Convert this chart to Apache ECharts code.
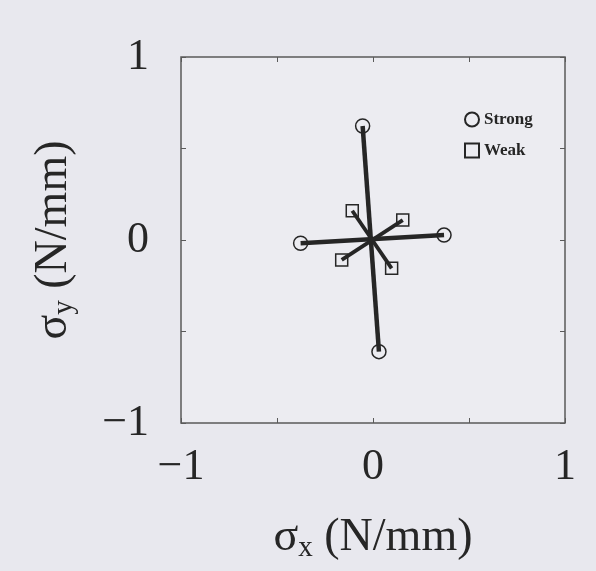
<!DOCTYPE html>
<html>
<head>
<meta charset="utf-8">
<script src="https://cdn.jsdelivr.net/npm/echarts@6/dist/echarts.min.js"></script>
<style>
    html, body { margin: 0; padding: 0; background: #e8e8ee; }
    #chart { width: 596px; height: 571px; }
</style>
</head>
<body>
<div id="chart"></div>
<script>
    // strong specimen: two segments through the origin
    const strongA = [[-0.054, 0.623], [0.031, -0.610]];
    const strongB = [[-0.377, -0.018], [0.370, 0.027]];
    // weak specimen
    const weakA = [[-0.108, 0.160], [0.097, -0.155]];
    const weakB = [[-0.163, -0.109], [0.155, 0.109]];

    const axisTicks = [-1, -0.5, 0, 0.5, 1];
    const labelTicks = [-1, 0, 1];

    const ink = '#262626';
    const serif = '"Liberation Serif", "DejaVu Serif", serif';

    function tickLabel(v) {
        if (labelTicks.indexOf(v) < 0) return '';
        return v < 0 ? '\u2212' + Math.abs(v) : String(v);
    }

    function segment(name, data, symbol, size, width) {
        return {
            name: name,
            type: 'line',
            data: data,
            symbol: symbol,
            symbolSize: size,
            lineStyle: {color: ink, width: width},
            itemStyle: {color: 'rgba(0,0,0,0)', borderColor: ink, borderWidth: 1.5},
            emphasis: {disabled: true},
            z: 3
        };
    }

    const nameRich = {
        s: {fontFamily: serif, fontSize: 46, lineHeight: 50, color: ink},
        sub: {fontFamily: serif, fontSize: 29, lineHeight: 12, color: ink, verticalAlign: 'bottom'}
    };

    let chart = echarts.init(document.getElementById('chart'));
    let option = {
        backgroundColor: '#e8e8ee',
        animation: false,
        grid: {
            left: 181, top: 57, right: 31, bottom: 148,
            show: true,
            backgroundColor: '#ececf1',
            borderColor: '#5a5a5a',
            borderWidth: 1.5
        },
        legend: {
            orient: 'vertical',
            left: 459,
            top: 106,
            itemWidth: 14,
            itemHeight: 14,
            itemGap: 14,
            selectedMode: false,
            textStyle: {fontFamily: serif, fontSize: 17, fontWeight: 'bold', color: ink},
            data: [
                {name: 'Strong', icon: 'circle'},
                {name: 'Weak', icon: 'rect'}
            ]
        },
        xAxis: [
            {
                type: 'value', min: -1, max: 1, interval: 0.5,
                name: '{s|σ}{sub|x}{s| (N/mm)}',
                nameLocation: 'middle',
                nameGap: 90,
                nameTextStyle: {rich: nameRich},
                axisLine: {show: false, onZero: false},
                axisTick: {show: true, inside: true, length: 5, lineStyle: {color: '#5a5a5a'}},
                splitLine: {show: false},
                axisLabel: {formatter: tickLabel, fontFamily: serif, fontSize: 44, color: ink, margin: 22}
            },
            {
                type: 'value', min: -1, max: 1, interval: 0.5, position: 'top',
                axisLine: {show: false, onZero: false},
                axisTick: {show: true, inside: true, length: 5, lineStyle: {color: '#5a5a5a'}},
                splitLine: {show: false},
                axisLabel: {show: false}
            }
        ],
        yAxis: [
            {
                type: 'value', min: -1, max: 1, interval: 0.5,
                name: '{s|σ}{sub|y}{s| (N/mm)}',
                nameLocation: 'middle',
                nameGap: 102,
                nameTextStyle: {rich: nameRich},
                axisLine: {show: false, onZero: false},
                axisTick: {show: true, inside: true, length: 5, lineStyle: {color: '#5a5a5a'}},
                splitLine: {show: false},
                axisLabel: {formatter: tickLabel, fontFamily: serif, fontSize: 44, color: ink, margin: 32}
            },
            {
                type: 'value', min: -1, max: 1, interval: 0.5, position: 'right',
                axisLine: {show: false, onZero: false},
                axisTick: {show: true, inside: true, length: 5, lineStyle: {color: '#5a5a5a'}},
                splitLine: {show: false},
                axisLabel: {show: false}
            }
        ],
        series: [
            segment('Strong', strongA, 'circle', 14, 4.5),
            segment('Strong', strongB, 'circle', 14, 4.5),
            segment('Weak', weakA, 'rect', 12, 3.8),
            segment('Weak', weakB, 'rect', 12, 3.8)
        ]
    };
    chart.setOption(option);
</script>
</body>
</html>
